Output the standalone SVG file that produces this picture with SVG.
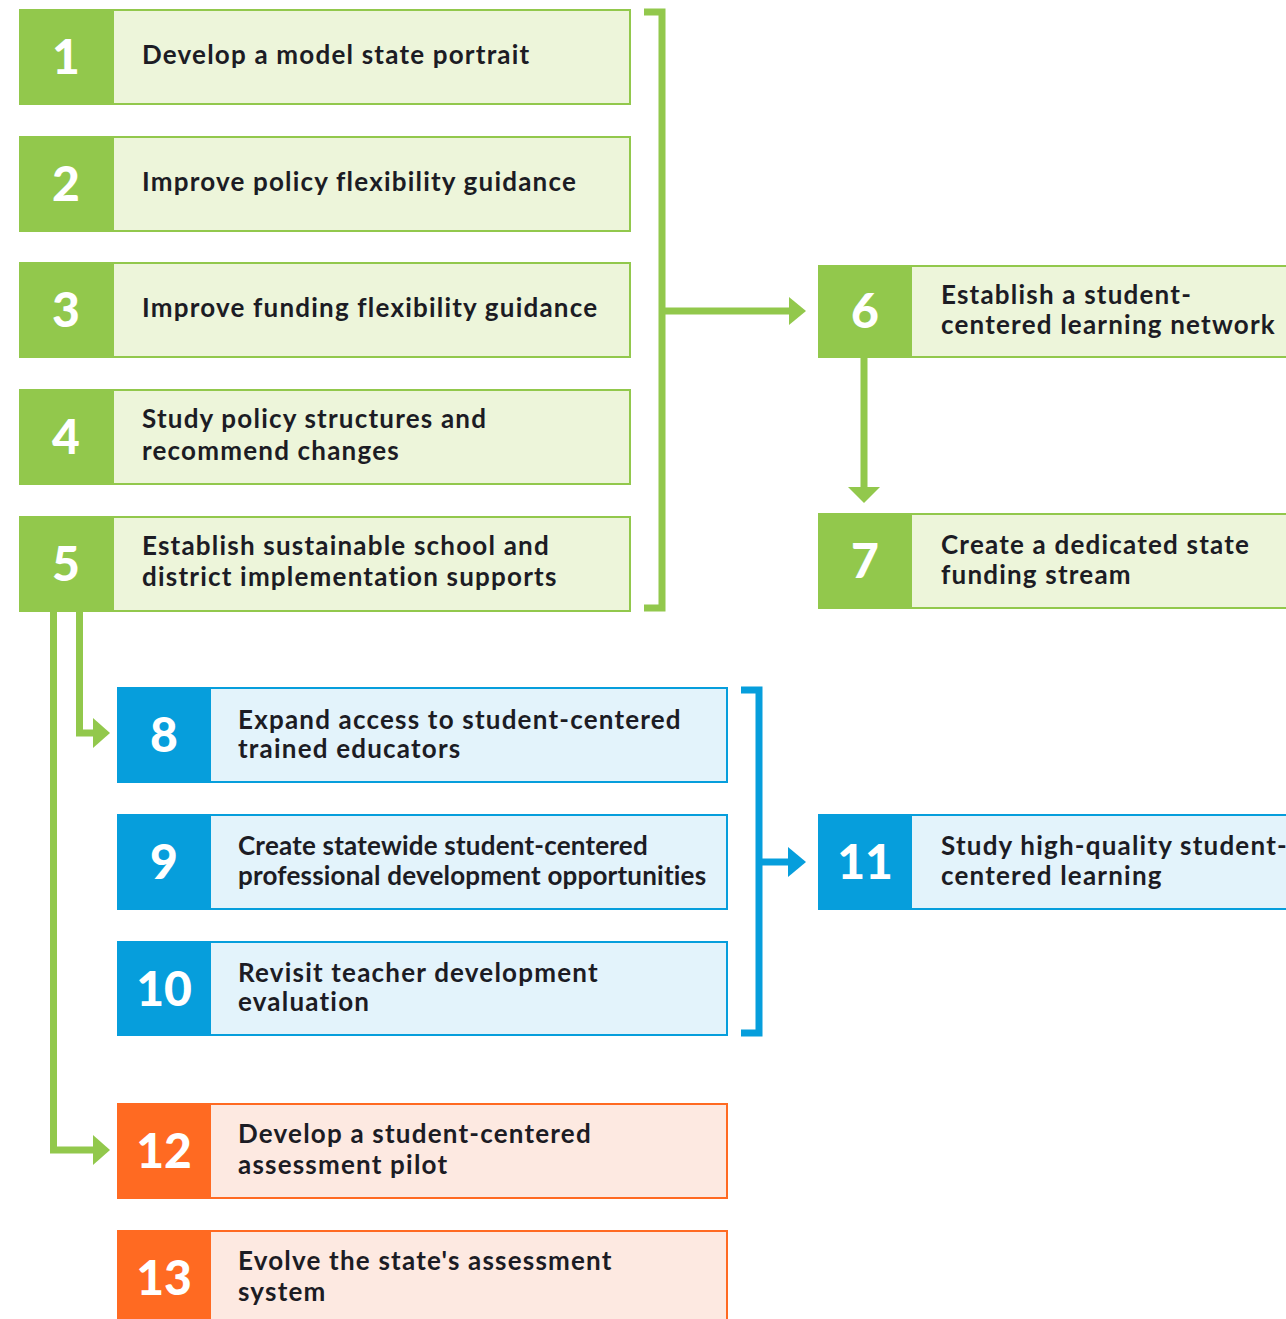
<svg xmlns="http://www.w3.org/2000/svg" width="1286" height="1319" viewBox="0 0 1286 1319">
<defs>
<style>
.g .num{fill:#92C84C}.g .body{fill:#EDF5DA;stroke:#92C84C}
.b .num{fill:#069EDC}.b .body{fill:#E3F3FB;stroke:#069EDC}
.o .num{fill:#FF6A22}.o .body{fill:#FDE9E1;stroke:#FF6A22}
.body{stroke-width:2}
.n{font-family:Lato,"Liberation Sans",sans-serif;font-weight:900;font-size:48px;fill:#fff;text-anchor:middle}
.t{font-family:Lato,"Liberation Sans",sans-serif;font-weight:700;font-size:26px;letter-spacing:1.2px;fill:#1c1c24}
.c{letter-spacing:0.2px}
.gl{fill:none;stroke:#92C84C;stroke-width:7}
.bl{fill:none;stroke:#069EDC;stroke-width:7}
</style>
</defs>
<rect width="1286" height="1319" fill="#fff"/>
<g id="connectors">
<path class="gl" d="M644 12H662V608H644"/>
<path class="gl" d="M662 311H792"/>
<polygon points="789,297 806,311 789,325" fill="#92C84C"/>
<path class="gl" d="M864 358V490"/>
<polygon points="848,487 864,503 880,487" fill="#92C84C"/>
<path class="gl" d="M79.5 611V733H96"/>
<polygon points="93,718 110,733 93,748" fill="#92C84C"/>
<path class="gl" d="M53.5 611V1150H96"/>
<polygon points="93,1135 110,1150 93,1165" fill="#92C84C"/>
<path class="bl" d="M741 690H759V1033H741"/>
<path class="bl" d="M759 862H791"/>
<polygon points="788,847 806,862 788,877" fill="#069EDC"/>
</g>
<g id="node1" class="g"><rect class="body" x="113" y="10" width="517" height="94"/><rect class="num" x="19" y="9" width="95" height="96"/><text class="n" x="66" y="74">1</text><text class="t" x="142" y="64">Develop a model state portrait</text></g>
<g id="node2" class="g"><rect class="body" x="113" y="137" width="517" height="94"/><rect class="num" x="19" y="136" width="95" height="96"/><text class="n" x="66" y="201">2</text><text class="t" x="142" y="191">Improve policy flexibility guidance</text></g>
<g id="node3" class="g"><rect class="body" x="113" y="263" width="517" height="94"/><rect class="num" x="19" y="262" width="95" height="96"/><text class="n" x="66" y="327">3</text><text class="t" x="142" y="317">Improve funding flexibility guidance</text></g>
<g id="node4" class="g"><rect class="body" x="113" y="390" width="517" height="94"/><rect class="num" x="19" y="389" width="95" height="96"/><text class="n" x="66" y="454">4</text><text class="t" x="142" y="428">Study policy structures and</text><text class="t" x="142" y="460">recommend changes</text></g>
<g id="node5" class="g"><rect class="body" x="113" y="517" width="517" height="94"/><rect class="num" x="19" y="516" width="95" height="96"/><text class="n" x="66" y="581">5</text><text class="t" x="142" y="555">Establish sustainable school and</text><text class="t" x="142" y="586">district implementation supports</text></g>
<g id="node6" class="g"><rect class="body" x="911" y="266" width="400" height="91"/><rect class="num" x="818" y="265" width="94" height="93"/><text class="n" x="865" y="328">6</text><text class="t" x="941" y="304">Establish a student-</text><text class="t" x="941" y="334">centered learning network</text></g>
<g id="node7" class="g"><rect class="body" x="911" y="514" width="400" height="94"/><rect class="num" x="818" y="513" width="94" height="96"/><text class="n" x="865" y="578">7</text><text class="t" x="941" y="554">Create a dedicated state</text><text class="t" x="941" y="584">funding stream</text></g>
<g id="node8" class="b"><rect class="body" x="210" y="688" width="517" height="94"/><rect class="num" x="117" y="687" width="94" height="96"/><text class="n" x="164" y="752">8</text><text class="t" x="238" y="729">Expand access to student-centered</text><text class="t" x="238" y="758">trained educators</text></g>
<g id="node9" class="b"><rect class="body" x="210" y="815" width="517" height="94"/><rect class="num" x="117" y="814" width="94" height="96"/><text class="n" x="164" y="879">9</text><text class="t c" x="238" y="855">Create statewide student-centered</text><text class="t c" x="238" y="885">professional development opportunities</text></g>
<g id="node10" class="b"><rect class="body" x="210" y="942" width="517" height="93"/><rect class="num" x="117" y="941" width="94" height="95"/><text class="n" x="164" y="1006">10</text><text class="t" x="238" y="982">Revisit teacher development</text><text class="t" x="238" y="1011">evaluation</text></g>
<g id="node11" class="b"><rect class="body" x="911" y="815" width="400" height="94"/><rect class="num" x="818" y="814" width="94" height="96"/><text class="n" x="865" y="879">11</text><text class="t" x="941" y="855">Study high-quality student-</text><text class="t" x="941" y="885">centered learning</text></g>
<g id="node12" class="o"><rect class="body" x="210" y="1104" width="517" height="94"/><rect class="num" x="117" y="1103" width="94" height="96"/><text class="n" x="164" y="1168">12</text><text class="t" x="238" y="1143">Develop a student-centered</text><text class="t" x="238" y="1174">assessment pilot</text></g>
<g id="node13" class="o"><rect class="body" x="210" y="1231" width="517" height="100"/><rect class="num" x="117" y="1230" width="94" height="100"/><text class="n" x="164" y="1295">13</text><text class="t" x="238" y="1270">Evolve the state's assessment</text><text class="t" x="238" y="1301">system</text></g>
</svg>
